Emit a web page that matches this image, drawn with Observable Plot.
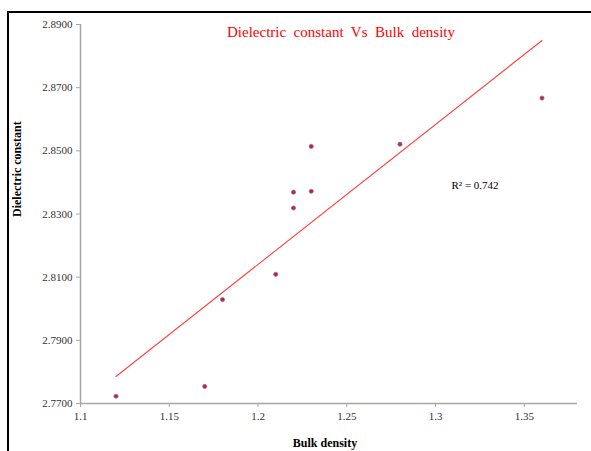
<!DOCTYPE html>
<html>
<head>
<meta charset="utf-8">
<script src="https://cdn.jsdelivr.net/npm/d3@7"></script>
<script src="https://cdn.jsdelivr.net/npm/@observablehq/plot@0.6"></script>
<style>
  html, body { margin: 0; padding: 0; background: #fff; overflow: hidden; }
  #wrap { position: relative; width: 591px; height: 451px; }
  #border { position: absolute; left: 7px; top: 11px; width: 700px; height: 600px;
            border-left: 2px solid #000; border-top: 2px solid #000; pointer-events: none; }
</style>
</head>
<body>
<div id="wrap"><div id="chart"></div><div id="border"></div></div>
<script>
// Data
const bulkDensity = [1.12, 1.17, 1.18, 1.21, 1.22, 1.22, 1.23, 1.23, 1.28, 1.36];
const dielectricConstant = [2.7723, 2.7754, 2.8029, 2.8109, 2.8319, 2.8369, 2.8372, 2.8514, 2.8521, 2.8667];
const xTicks = [1.1, 1.15, 1.2, 1.25, 1.3, 1.35];
const yTicks = [2.77, 2.79, 2.81, 2.83, 2.85, 2.87, 2.89];
const xDomain = [1.1, 1.38];
const yDomain = [2.77, 2.89];
const titleText = "Dielectric\u00a0 constant\u00a0 Vs\u00a0 Bulk\u00a0 density";
const xLabel = "Bulk density";
const yLabel = "Dielectric constant";
const rsqLabel = "R\u00b2 = 0.742";

const data = bulkDensity.map((x, i) => ({x, y: dielectricConstant[i]}));

const serif = "'Liberation Serif', 'Times New Roman', serif";
const axisColor = "#a6a6a6";

const chart = Plot.plot({
  width: 591,
  height: 451,
  marginLeft: 80,
  marginRight: 14,
  marginTop: 24,
  marginBottom: 48,
  style: { fontFamily: serif, background: "transparent" },
  x: { domain: xDomain },
  y: { domain: yDomain },
  marks: [
    Plot.ruleX([xDomain[0]], { stroke: axisColor, strokeWidth: 1.5 }),
    Plot.ruleY([yDomain[0]], { stroke: axisColor, strokeWidth: 1.5 }),
    Plot.axisY({ ticks: yTicks, tickFormat: d3.format(".4f"), tickSize: 4, tickPadding: 4,
                 stroke: axisColor, color: "#333", fontSize: 11, label: null }),
    Plot.axisX({ ticks: xTicks, tickFormat: d => String(+d.toFixed(2)), tickSize: 4, tickPadding: 5,
                 stroke: axisColor, color: "#333", fontSize: 11, label: null }),
    Plot.linearRegressionY(data, { x: "x", y: "y", stroke: "#ff4040", strokeWidth: 1.1, ci: 0 }),
    Plot.dot(data, { x: "x", y: "y", r: 2.1, fill: "#e8101a", stroke: "#6a86c4", strokeWidth: 0.8 }),
    Plot.text([titleText], { frameAnchor: "top", dx: 12, dy: 8, lineAnchor: "middle",
                             fill: "#ff0000", fontSize: 15, fontFamily: serif }),
    Plot.text([rsqLabel], { frameAnchor: "top-left", dx: 371, dy: 161, textAnchor: "start",
                            lineAnchor: "middle", fill: "#000", fontSize: 11, fontFamily: serif }),
    Plot.text([yLabel], { frameAnchor: "left", dx: -63, dy: 3, rotate: -90, lineAnchor: "middle",
                          fill: "#000", fontSize: 12, fontWeight: "bold", fontFamily: serif }),
    Plot.text([xLabel], { frameAnchor: "bottom", dx: -4, dy: 35, lineAnchor: "top",
                          fill: "#000", fontSize: 12, fontWeight: "bold", fontFamily: serif })
  ]
});
document.getElementById("chart").appendChild(chart);
</script>
</body>
</html>
